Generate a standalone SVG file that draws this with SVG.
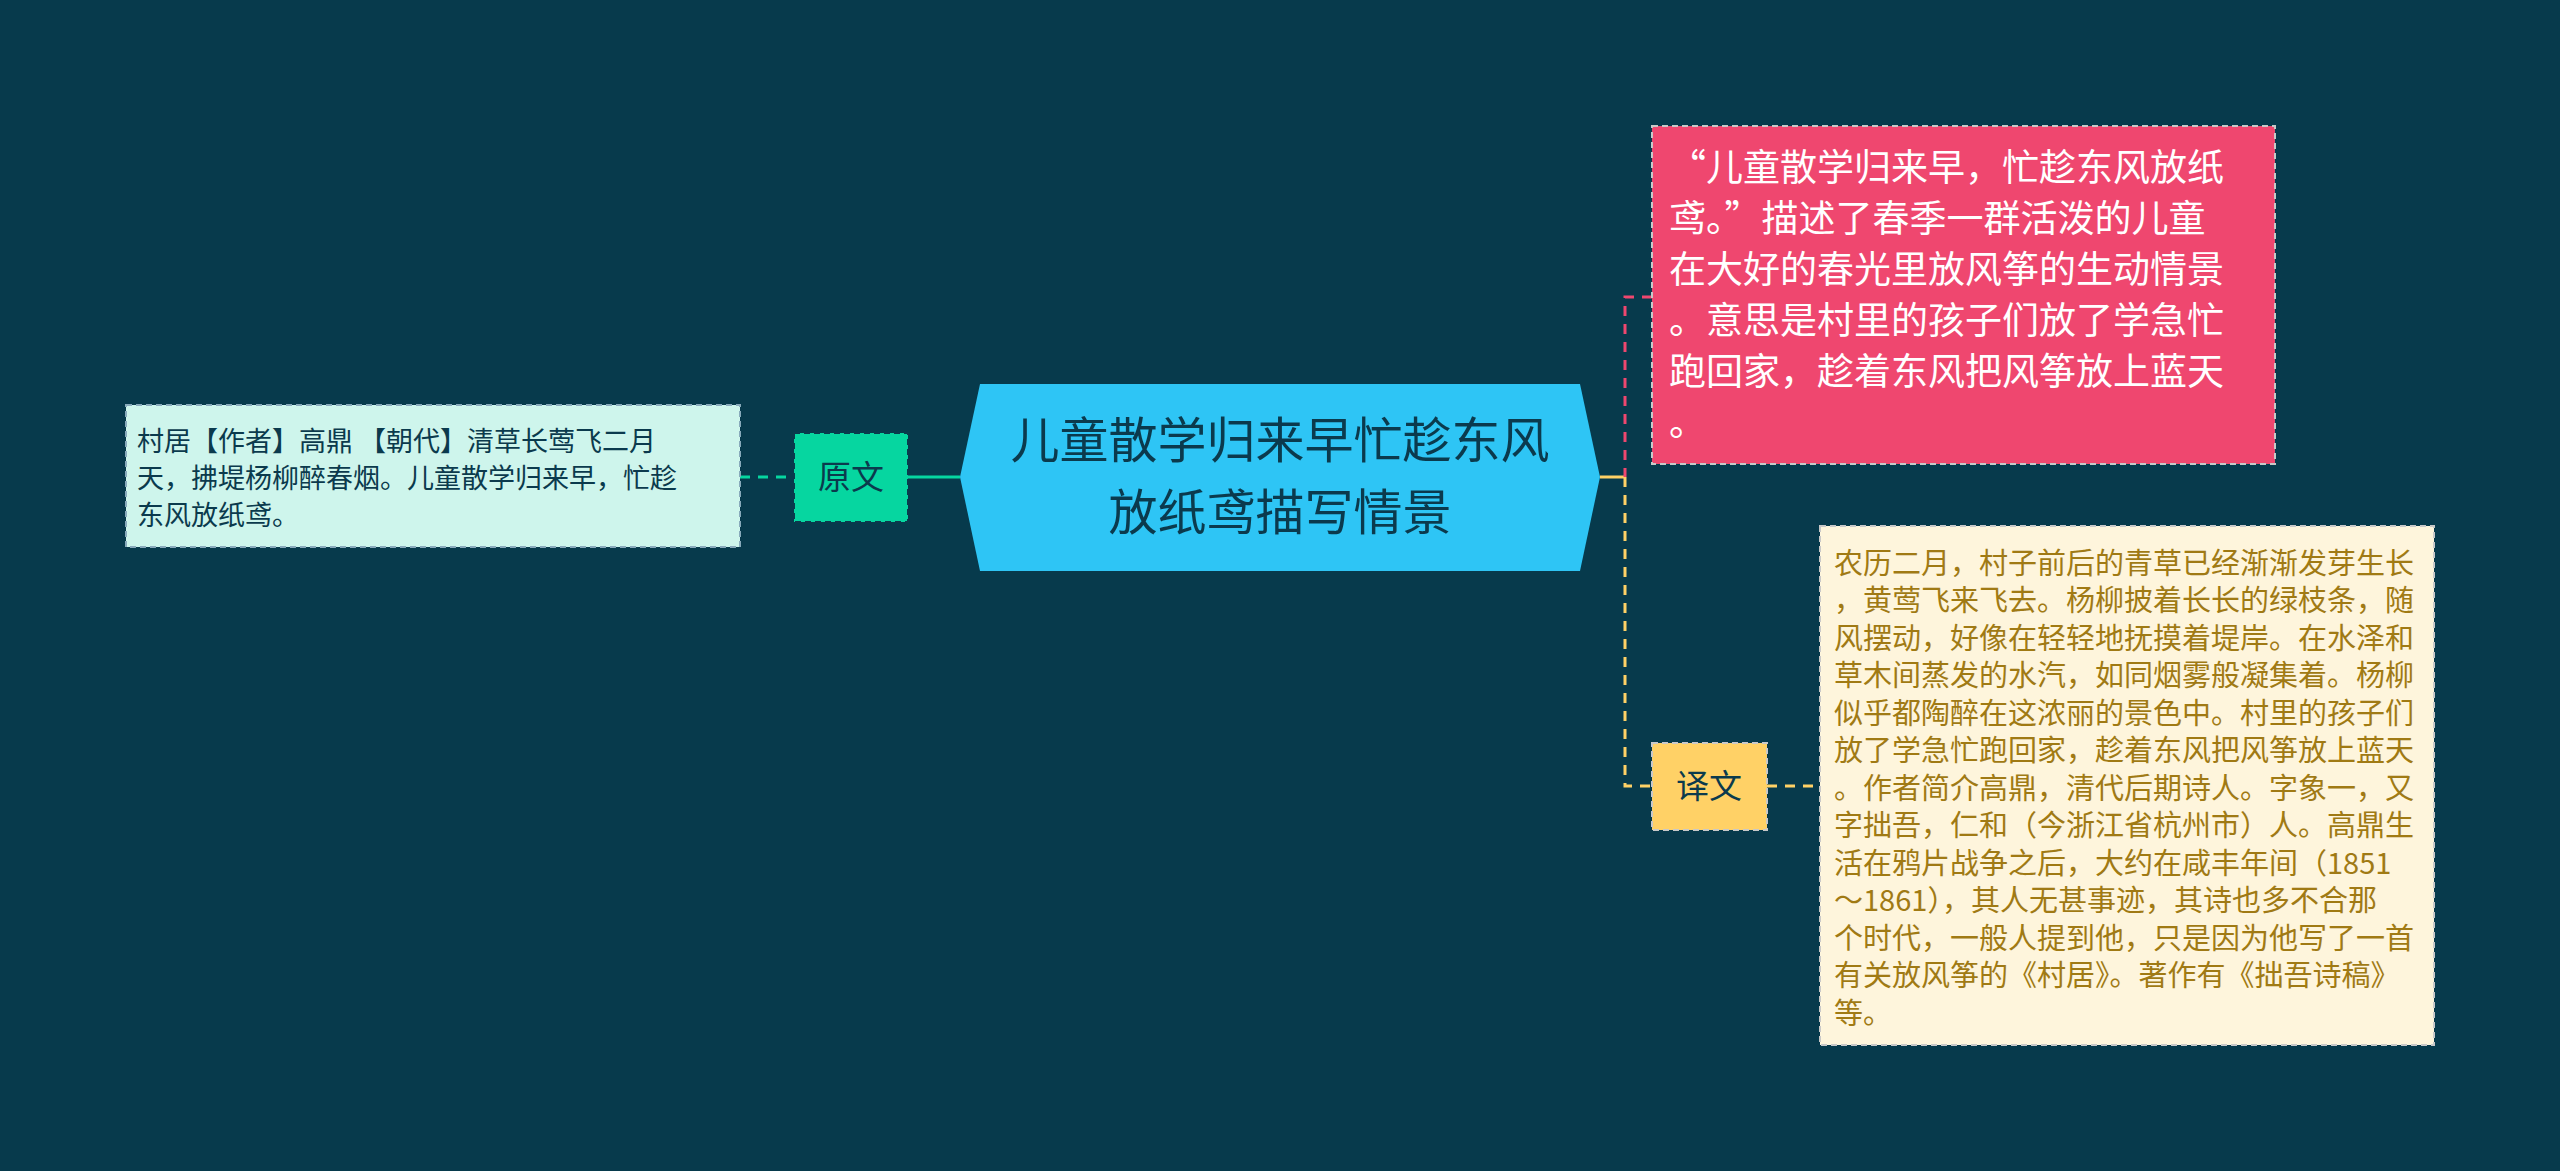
<svg xmlns="http://www.w3.org/2000/svg" width="2560" height="1171" viewBox="0 0 2560 1171">
<style>
text{font-family:"Noto Sans CJK SC","Liberation Sans",sans-serif}
.box{stroke-dasharray:6 4;stroke-width:2}
</style>
<rect width="2560" height="1171" fill="#073a4c"/>
<g id="connectors" fill="none" stroke-width="3">
<path d="M908 477H960" stroke="#06d6a0"/>
<path d="M740 477H794" stroke="#06d6a0" stroke-dasharray="10 8"/>
<path d="M1600 477H1625" stroke="#ffd166"/>
<path d="M1652 297H1625V477" stroke="#ef476f" stroke-dasharray="10 8"/>
<path d="M1625 477V786H1652" stroke="#ffd166" stroke-dasharray="10 8"/>
<path d="M1767 786H1820" stroke="#ffd166" stroke-dasharray="10 8"/>
</g>
<g id="center">
<polygon points="960,477 980,384 1580,384 1600,477 1580,571 980,571" fill="#2ec5f5"/>
<text x="1280" y="458" font-size="49" fill="#0b3a4d" text-anchor="middle">儿童散学归来早忙趁东风</text>
<text x="1280" y="530" font-size="49" fill="#0b3a4d" text-anchor="middle">放纸鸢描写情景</text>
</g>
<g id="yuanwen">
<rect x="794" y="433" width="114" height="89" fill="#06d6a0" stroke="#0b3a4d" class="box"/>
<text x="851" y="489" font-size="33" fill="#0b3a4d" text-anchor="middle">原文</text>
</g>
<g id="yuanwen-text">
<rect x="126" y="405" width="614" height="142" fill="#cef5ec" stroke="#8ab" class="box"/>
<g font-size="27" fill="#0b3a4d">
<text x="137" y="451">村居【作者】高鼎 【朝代】清草长莺飞二月</text>
<text x="137" y="488">天，拂堤杨柳醉春烟。儿童散学归来早，忙趁</text>
<text x="137" y="525">东风放纸鸢。</text>
</g>
</g>
<g id="pink">
<rect x="1652" y="126" width="623" height="338" fill="#ef476f" stroke="#c8c8c8" class="box"/>
<g font-size="37" fill="#ffffff">
<text x="1669" y="181">  “儿童散学归来早，忙趁东风放纸</text>
<text x="1669" y="232">鸢。”描述了春季一群活泼的儿童</text>
<text x="1669" y="283">在大好的春光里放风筝的生动情景</text>
<text x="1669" y="334">。意思是村里的孩子们放了学急忙</text>
<text x="1669" y="385">跑回家，趁着东风把风筝放上蓝天</text>
<text x="1669" y="436">。</text>
</g>
</g>
<g id="yiwen">
<rect x="1652" y="743" width="115" height="87" fill="#ffd166" stroke="#c8c8c8" class="box"/>
<text x="1709" y="798" font-size="33" fill="#0b3a4d" text-anchor="middle">译文</text>
</g>
<g id="yiwen-text">
<rect x="1820" y="526" width="614" height="519" fill="#fef5dc" stroke="#c8c8c8" class="box"/>
<g font-size="29" fill="#a07a14">
<text x="1834" y="574">农历二月，村子前后的青草已经渐渐发芽生长</text>
<text x="1834" y="611">，黄莺飞来飞去。杨柳披着长长的绿枝条，随</text>
<text x="1834" y="649">风摆动，好像在轻轻地抚摸着堤岸。在水泽和</text>
<text x="1834" y="686">草木间蒸发的水汽，如同烟雾般凝集着。杨柳</text>
<text x="1834" y="724">似乎都陶醉在这浓丽的景色中。村里的孩子们</text>
<text x="1834" y="761">放了学急忙跑回家，趁着东风把风筝放上蓝天</text>
<text x="1834" y="799">。作者简介高鼎，清代后期诗人。字象一，又</text>
<text x="1834" y="836">字拙吾，仁和（今浙江省杭州市）人。高鼎生</text>
<text x="1834" y="874">活在鸦片战争之后，大约在咸丰年间（1851</text>
<text x="1834" y="911">～1861），其人无甚事迹，其诗也多不合那</text>
<text x="1834" y="949">个时代，一般人提到他，只是因为他写了一首</text>
<text x="1834" y="986">有关放风筝的《村居》。著作有《拙吾诗稿》</text>
<text x="1834" y="1024">等。</text>
</g>
</g>
</svg>
